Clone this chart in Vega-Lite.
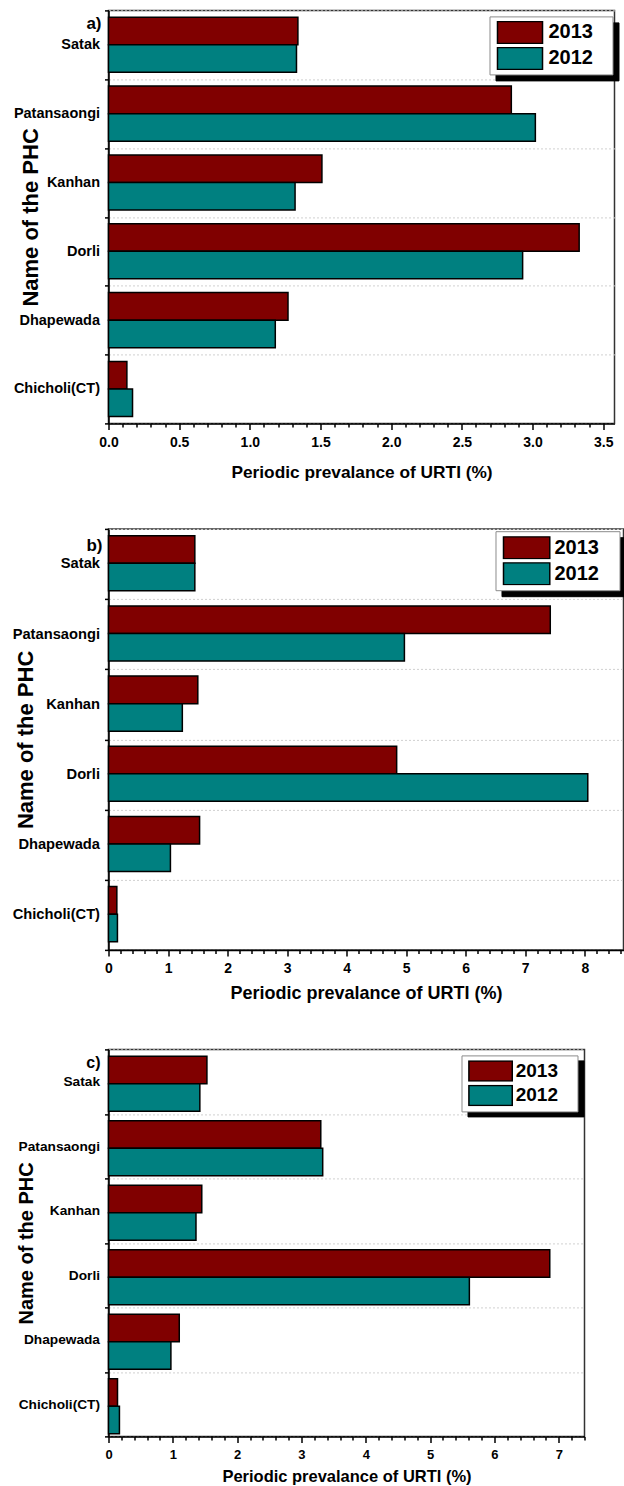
{
  "$schema": "https://vega.github.io/schema/vega-lite/v6.json",
  "padding": {"top": 1.4, "left": 10.5, "right": 0, "bottom": 0},
  "background": "white",
  "spacing": 37.5,
  "resolve": {"scale": {"color": "independent", "shape": "independent"}, "legend": {"color": "independent", "shape": "independent"}},
  "config": {
    "font": "Liberation Sans",
    "view": {"stroke": "#333333", "strokeWidth": 1.5},
    "axis": {"domainColor": "black", "domainWidth": 1.5, "tickColor": "black", "tickWidth": 1.5, "labelColor": "black", "titleColor": "black", "labelFontWeight": "bold", "titleFontWeight": "bold"}
  },
  "datasets": {
    "a": [
      {"phc": "Satak", "year": "2013", "value": 1.34}, {"phc": "Satak", "year": "2012", "value": 1.33},
      {"phc": "Patansaongi", "year": "2013", "value": 2.85}, {"phc": "Patansaongi", "year": "2012", "value": 3.02},
      {"phc": "Kanhan", "year": "2013", "value": 1.51}, {"phc": "Kanhan", "year": "2012", "value": 1.32},
      {"phc": "Dorli", "year": "2013", "value": 3.33}, {"phc": "Dorli", "year": "2012", "value": 2.93},
      {"phc": "Dhapewada", "year": "2013", "value": 1.27}, {"phc": "Dhapewada", "year": "2012", "value": 1.18},
      {"phc": "Chicholi(CT)", "year": "2013", "value": 0.13}, {"phc": "Chicholi(CT)", "year": "2012", "value": 0.17}
    ],
    "b": [
      {"phc": "Satak", "year": "2013", "value": 1.45}, {"phc": "Satak", "year": "2012", "value": 1.45},
      {"phc": "Patansaongi", "year": "2013", "value": 7.42}, {"phc": "Patansaongi", "year": "2012", "value": 4.97},
      {"phc": "Kanhan", "year": "2013", "value": 1.5}, {"phc": "Kanhan", "year": "2012", "value": 1.24},
      {"phc": "Dorli", "year": "2013", "value": 4.84}, {"phc": "Dorli", "year": "2012", "value": 8.05},
      {"phc": "Dhapewada", "year": "2013", "value": 1.53}, {"phc": "Dhapewada", "year": "2012", "value": 1.04},
      {"phc": "Chicholi(CT)", "year": "2013", "value": 0.14}, {"phc": "Chicholi(CT)", "year": "2012", "value": 0.15}
    ],
    "c": [
      {"phc": "Satak", "year": "2013", "value": 1.53}, {"phc": "Satak", "year": "2012", "value": 1.42},
      {"phc": "Patansaongi", "year": "2013", "value": 3.3}, {"phc": "Patansaongi", "year": "2012", "value": 3.33},
      {"phc": "Kanhan", "year": "2013", "value": 1.45}, {"phc": "Kanhan", "year": "2012", "value": 1.36},
      {"phc": "Dorli", "year": "2013", "value": 6.86}, {"phc": "Dorli", "year": "2012", "value": 5.61},
      {"phc": "Dhapewada", "year": "2013", "value": 1.1}, {"phc": "Dhapewada", "year": "2012", "value": 0.97},
      {"phc": "Chicholi(CT)", "year": "2013", "value": 0.14}, {"phc": "Chicholi(CT)", "year": "2012", "value": 0.17}
    ],
    "keys": [{"k": "2013"}, {"k": "2012"}]
  },
  "vconcat": [
    {
      "width": 506, "height": 413,
      "layer": [
        {
          "data": {"name": "a"},
          "encoding": {
            "y": {"field": "phc", "type": "nominal", "sort": ["Satak", "Patansaongi", "Kanhan", "Dorli", "Dhapewada", "Chicholi(CT)"],
              "scale": {"paddingInner": 0, "paddingOuter": 0},
              "axis": {"title": "Name of the PHC", "titleFontSize": 22, "titleBaseline": "alphabetic", "titleX": -71.5, "labelFontSize": 14.5, "labelPadding": 5, "tickBand": "extent", "tickSize": 4, "grid": true, "gridColor": "#d0d0d0", "gridDash": [2, 2], "gridWidth": 1}},
            "x": {"field": "value", "type": "quantitative", "scale": {"domain": [0, 3.58], "nice": false},
              "axis": {"title": "Periodic prevalance of URTI (%)", "titleFontSize": 17.3, "titlePadding": 14, "labelFontSize": 14, "labelPadding": 6, "labelOverlap": false, "labelFlush": false, "grid": false,
                "values": [0, 0.1, 0.2, 0.3, 0.4, 0.5, 0.6, 0.7, 0.8, 0.9, 1, 1.1, 1.2, 1.3, 1.4, 1.5, 1.6, 1.7, 1.8, 1.9, 2, 2.1, 2.2, 2.3, 2.4, 2.5, 2.6, 2.7, 2.8, 2.9, 3, 3.1, 3.2, 3.3, 3.4, 3.5],
                "labelExpr": "abs(datum.value*2 - round(datum.value*2)) < 0.001 ? format(datum.value, '.1f') : ''",
                "tickSize": {"condition": {"test": "abs(datum.value*2 - round(datum.value*2)) < 0.001", "value": 6}, "value": 3.5}}}
          },
          "layer": [
            {
              "mark": {"type": "bar", "stroke": "black", "strokeWidth": 1.5},
              "encoding": {
                "yOffset": {"field": "year", "sort": ["2013", "2012"], "scale": {"paddingInner": 0, "paddingOuter": 0.25}},
                "color": {"field": "year", "type": "nominal", "scale": {"domain": ["2013", "2012"], "range": ["#800000", "#008080"]},
                  "legend": {"title": null, "orient": "none", "legendX": 381, "legendY": 6, "padding": 4.5, "clipHeight": 23, "strokeColor": "#8c8c8c", "fillColor": "white", "symbolType": "M-0.773,-1H3.32V1H-0.773Z", "symbolSize": 484, "symbolStrokeColor": "black", "symbolStrokeWidth": 1.5, "symbolOpacity": 1, "labelFontSize": 20, "labelFontWeight": "bold", "labelColor": "black", "labelOffset": 30.5, "rowPadding": 3, "labelExpr": "datum.label + '\u2800'", "zindex": 2}}
              }
            },
            {
              "data": {"values": [{"phc": "Satak", "value": 0, "label": "a)"}]},
              "mark": {"type": "text", "align": "right", "baseline": "alphabetic", "dx": -7, "dy": -15.4, "fontSize": 17, "fontWeight": "bold", "color": "black"},
              "encoding": {"text": {"field": "label"}}
            }
          ]
        },
        {
          "data": {"name": "keys"},
          "mark": {"type": "point", "opacity": 0},
          "encoding": {
            "shape": {"field": "k", "type": "nominal", "sort": ["2013", "2012"],
              "legend": {"title": null, "orient": "none", "legendX": 387, "legendY": 12, "padding": 4.5, "clipHeight": 23, "strokeColor": "black", "fillColor": "black", "symbolSize": 484, "symbolStrokeWidth": 1.5, "symbolOpacity": 0, "labelOpacity": 0, "labelFontSize": 20, "labelFontWeight": "bold", "labelOffset": 30.5, "rowPadding": 3, "labelExpr": "datum.label + '\u2800'", "zindex": 1}}
          }
        }
      ]
    },
    {
      "width": 515, "height": 421,
      "layer": [
        {
          "data": {"name": "b"},
          "encoding": {
            "y": {"field": "phc", "type": "nominal", "sort": ["Satak", "Patansaongi", "Kanhan", "Dorli", "Dhapewada", "Chicholi(CT)"],
              "scale": {"paddingInner": 0, "paddingOuter": 0},
              "axis": {"title": "Name of the PHC", "titleFontSize": 22, "titleBaseline": "alphabetic", "titleX": -76.5, "labelFontSize": 14.7, "labelPadding": 5, "tickBand": "extent", "tickSize": 4, "grid": true, "gridColor": "#d0d0d0", "gridDash": [2, 2], "gridWidth": 1}},
            "x": {"field": "value", "type": "quantitative", "scale": {"domain": [0, 8.65], "nice": false},
              "axis": {"title": "Periodic prevalance of URTI (%)", "titleFontSize": 18, "titlePadding": 8.5, "labelFontSize": 14, "labelPadding": 6, "labelOverlap": false, "labelFlush": false, "grid": false,
                "values": [0, 0.2, 0.4, 0.6, 0.8, 1, 1.2, 1.4, 1.6, 1.8, 2, 2.2, 2.4, 2.6, 2.8, 3, 3.2, 3.4, 3.6, 3.8, 4, 4.2, 4.4, 4.6, 4.8, 5, 5.2, 5.4, 5.6, 5.8, 6, 6.2, 6.4, 6.6, 6.8, 7, 7.2, 7.4, 7.6, 7.8, 8, 8.2, 8.4, 8.6],
                "labelExpr": "abs(datum.value - round(datum.value)) < 0.001 ? format(datum.value, 'd') : ''",
                "tickSize": {"condition": {"test": "abs(datum.value - round(datum.value)) < 0.001", "value": 6}, "value": 3.5}}}
          },
          "layer": [
            {
              "mark": {"type": "bar", "stroke": "black", "strokeWidth": 1.5},
              "encoding": {
                "yOffset": {"field": "year", "sort": ["2013", "2012"], "scale": {"paddingInner": 0, "paddingOuter": 0.25}},
                "color": {"field": "year", "type": "nominal", "scale": {"domain": ["2013", "2012"], "range": ["#800000", "#008080"]},
                  "legend": {"title": null, "orient": "none", "legendX": 387, "legendY": 2.3, "padding": 5, "clipHeight": 23, "strokeColor": "#8c8c8c", "fillColor": "white", "symbolType": "M-0.818,-1H3.39V1H-0.818Z", "symbolSize": 484, "symbolStrokeColor": "black", "symbolStrokeWidth": 1.5, "symbolOpacity": 1, "labelFontSize": 20, "labelFontWeight": "bold", "labelColor": "black", "labelOffset": 30, "rowPadding": 3, "labelExpr": "datum.label + '\u2800'", "zindex": 2}}
              }
            },
            {
              "data": {"values": [{"phc": "Satak", "value": 0, "label": "b)"}]},
              "mark": {"type": "text", "align": "right", "baseline": "alphabetic", "dx": -6, "dy": -13, "fontSize": 17, "fontWeight": "bold", "color": "black"},
              "encoding": {"text": {"field": "label"}}
            }
          ]
        },
        {
          "data": {"name": "keys"},
          "mark": {"type": "point", "opacity": 0},
          "encoding": {
            "shape": {"field": "k", "type": "nominal", "sort": ["2013", "2012"],
              "legend": {"title": null, "orient": "none", "legendX": 393, "legendY": 8.3, "padding": 5, "clipHeight": 23, "strokeColor": "black", "fillColor": "black", "symbolSize": 484, "symbolStrokeWidth": 1.5, "symbolOpacity": 0, "labelOpacity": 0, "labelFontSize": 20, "labelFontWeight": "bold", "labelOffset": 30, "rowPadding": 3, "labelExpr": "datum.label + '\u2800'", "zindex": 1}}
          }
        }
      ]
    },
    {
      "width": 476, "height": 387,
      "layer": [
        {
          "data": {"name": "c"},
          "encoding": {
            "y": {"field": "phc", "type": "nominal", "sort": ["Satak", "Patansaongi", "Kanhan", "Dorli", "Dhapewada", "Chicholi(CT)"],
              "scale": {"paddingInner": 0, "paddingOuter": 0},
              "axis": {"title": "Name of the PHC", "titleFontSize": 20, "titleBaseline": "alphabetic", "titleX": -76, "labelFontSize": 13.7, "labelPadding": 5, "tickBand": "extent", "tickSize": 4, "grid": true, "gridColor": "#d0d0d0", "gridDash": [2, 2], "gridWidth": 1}},
            "x": {"field": "value", "type": "quantitative", "scale": {"domain": [0, 7.4], "nice": false},
              "axis": {"title": "Periodic prevalance of URTI (%)", "titleFontSize": 16.5, "titlePadding": 7, "labelFontSize": 13, "labelPadding": 6, "labelOverlap": false, "labelFlush": false, "grid": false,
                "values": [0, 0.2, 0.4, 0.6, 0.8, 1, 1.2, 1.4, 1.6, 1.8, 2, 2.2, 2.4, 2.6, 2.8, 3, 3.2, 3.4, 3.6, 3.8, 4, 4.2, 4.4, 4.6, 4.8, 5, 5.2, 5.4, 5.6, 5.8, 6, 6.2, 6.4, 6.6, 6.8, 7, 7.2, 7.4],
                "labelExpr": "abs(datum.value - round(datum.value)) < 0.001 ? format(datum.value, 'd') : ''",
                "tickSize": {"condition": {"test": "abs(datum.value - round(datum.value)) < 0.001", "value": 6}, "value": 3.5}}}
          },
          "layer": [
            {
              "mark": {"type": "bar", "stroke": "black", "strokeWidth": 1.5},
              "encoding": {
                "yOffset": {"field": "year", "sort": ["2013", "2012"], "scale": {"paddingInner": 0, "paddingOuter": 0.25}},
                "color": {"field": "year", "type": "nominal", "scale": {"domain": ["2013", "2012"], "range": ["#800000", "#008080"]},
                  "legend": {"title": null, "orient": "none", "legendX": 353, "legendY": 6, "padding": 4.75, "clipHeight": 21.5, "strokeColor": "#8c8c8c", "fillColor": "white", "symbolType": "M-0.835,-1H3.5V1H-0.835Z", "symbolSize": 400, "symbolStrokeColor": "black", "symbolStrokeWidth": 1.5, "symbolOpacity": 1, "labelFontSize": 19, "labelFontWeight": "bold", "labelColor": "black", "labelOffset": 27.5, "rowPadding": 2.5, "labelExpr": "datum.label + '\u2800'", "zindex": 2}}
              }
            },
            {
              "data": {"values": [{"phc": "Satak", "value": 0, "label": "c)"}]},
              "mark": {"type": "text", "align": "right", "baseline": "alphabetic", "dx": -8, "dy": -13.7, "fontSize": 16, "fontWeight": "bold", "color": "black"},
              "encoding": {"text": {"field": "label"}}
            }
          ]
        },
        {
          "data": {"name": "keys"},
          "mark": {"type": "point", "opacity": 0},
          "encoding": {
            "shape": {"field": "k", "type": "nominal", "sort": ["2013", "2012"],
              "legend": {"title": null, "orient": "none", "legendX": 359, "legendY": 11, "padding": 4.75, "clipHeight": 21.5, "strokeColor": "black", "fillColor": "black", "symbolSize": 400, "symbolStrokeWidth": 1.5, "symbolOpacity": 0, "labelOpacity": 0, "labelFontSize": 19, "labelFontWeight": "bold", "labelOffset": 27.5, "rowPadding": 2.5, "labelExpr": "datum.label + '\u2800'", "zindex": 1}}
          }
        }
      ]
    }
  ]
}
